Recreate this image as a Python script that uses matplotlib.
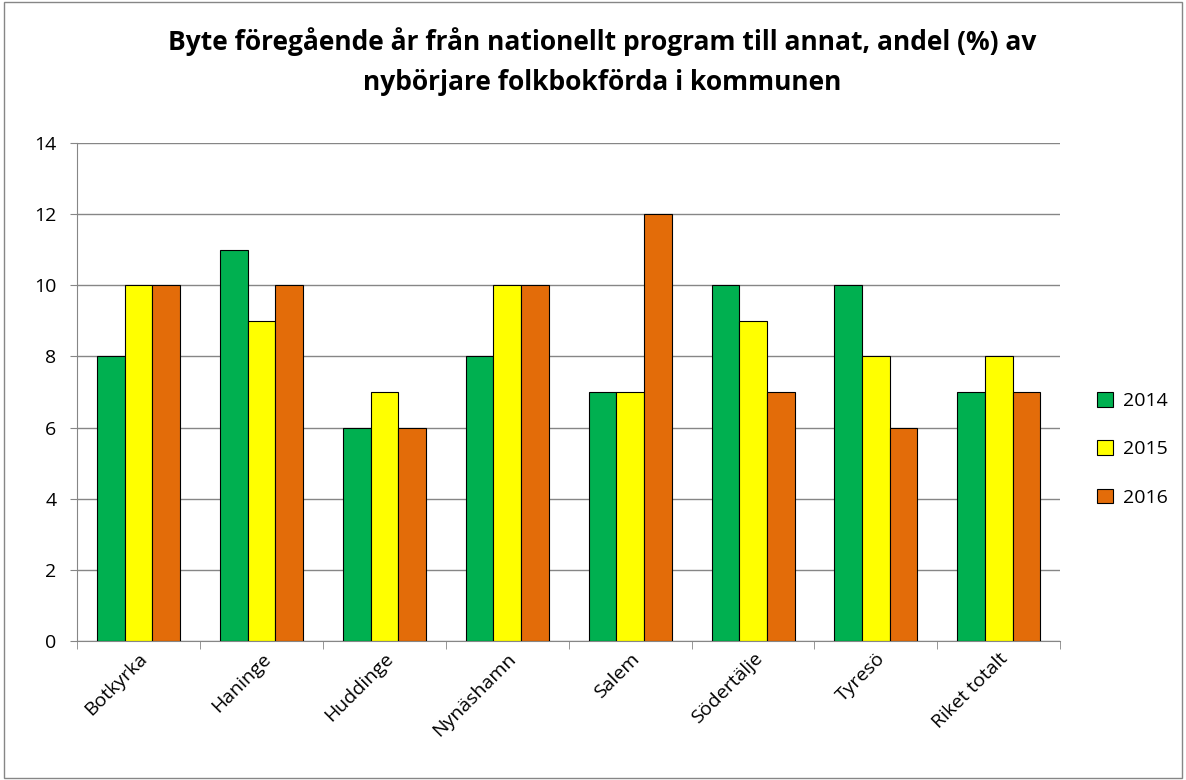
import numpy as np
import matplotlib.pyplot as plt
from matplotlib.patches import Rectangle

plt.rcParams['font.family'] = ['Open Sans', 'DejaVu Sans']

kommuner = ['Botkyrka', 'Haninge', 'Huddinge', 'Nynäshamn', 'Salem',
            'Södertälje', 'Tyresö', 'Riket totalt']
v2014 = [8, 11, 6, 8, 7, 10, 10, 7]
v2015 = [10, 9, 7, 10, 7, 9, 8, 8]
v2016 = [10, 10, 6, 10, 12, 7, 6, 7]
years = ['2014', '2015', '2016']
colors = ['#00B050', '#FFFF00', '#E36C09']

fig = plt.figure(figsize=(11.86, 7.8), dpi=100)
ax = fig.add_axes([0.065, 0.178, 0.829, 0.639])

x = np.arange(len(kommuner))
w = 0.225
for k, (vals, c, lab) in enumerate(zip([v2014, v2015, v2016], colors, years)):
    ax.bar(x + (k - 1) * w, vals, w, color=c, edgecolor='black', linewidth=0.8,
           label=lab, zorder=3)

ax.set_xlim(-0.5, len(kommuner) - 0.5)
ax.set_ylim(0, 14)
ax.set_yticks(range(0, 15, 2))
ax.tick_params(axis='y', labelsize=14, length=5, pad=10, direction='out', color='#868686')
ax.yaxis.grid(True, color='#868686', linewidth=1, zorder=0)

ax.set_xticks(x)
ax.set_xticklabels(kommuner, rotation=45, ha='right', rotation_mode='anchor',
                   fontsize=14)
ax.tick_params(axis='x', length=0, pad=6)
ax.set_xticks(np.arange(-0.5, len(kommuner), 1), minor=True)
ax.tick_params(axis='x', which='minor', length=6, color='#868686')

for s in ['top', 'right']:
    ax.spines[s].set_visible(False)
for s in ['left', 'bottom']:
    ax.spines[s].set_color('#868686')

ax.legend(loc='center left', bbox_to_anchor=(1.02, 0.385), frameon=False,
          fontsize=14, handlelength=0.8, handleheight=0.8, labelspacing=1.55,
          handletextpad=0.5)

fig.suptitle('Byte föregående år från nationellt program till annat, andel (%) av\n'
             'nybörjare folkbokförda i kommunen', x=0.508, y=0.965,
             fontsize=19, fontweight='bold', linespacing=1.6)

fig.patches.append(Rectangle((0.003, 0.003), 0.994, 0.994, transform=fig.transFigure,
                             fill=False, edgecolor='#868686', linewidth=1))

fig.savefig('out.png', dpi=100)
